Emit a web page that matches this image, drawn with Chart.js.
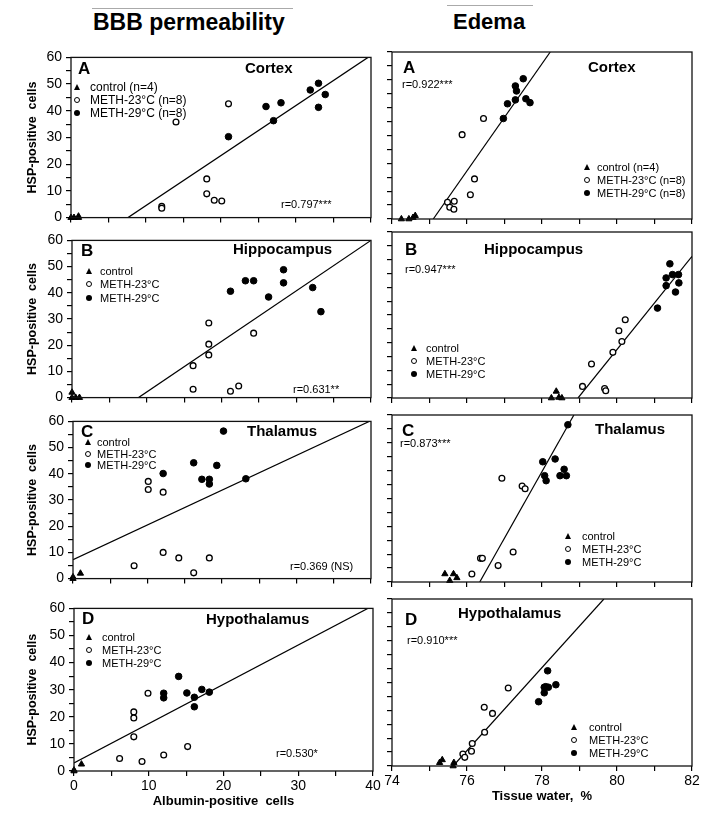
<!DOCTYPE html>
<html>
<head>
<meta charset="utf-8">
<script src="https://cdn.jsdelivr.net/npm/chart.js@4.4.1/dist/chart.umd.min.js"></script>
<style>
  body { margin: 0; background: #fff; width: 704px; height: 813px; position: relative; overflow: hidden;
         font-family: "Liberation Sans", Arial, sans-serif; color: #000; }
  canvas { position: absolute; }
  .t { position: absolute; white-space: pre; line-height: 1; transform: translateY(-50%); }
  .b { font-weight: bold; }
  .rule { position: absolute; border-top: 1px solid #aaa; height: 0; }
  .tri { position: absolute; width: 0; height: 0; border-left: 3.5px solid transparent;
         border-right: 3.5px solid transparent; border-bottom: 6px solid #000; transform: translate(-50%, -50%); }
  .dot { position: absolute; width: 6px; height: 6px; border-radius: 50%; box-sizing: border-box;
         transform: translate(-50%, -50%); }
  .open { border: 1.3px solid #000; background: #fff; }
  .full { background: #000; }
</style>
</head>
<body>
<div class="rule" style="left:92px;top:8px;width:201px"></div>
<div class="rule" style="left:447px;top:5px;width:86px"></div>
<div class="t b" style="left:93px;top:22px;font-size:23px">BBB permeability</div>
<div class="t b" style="left:453px;top:22px;font-size:22px">Edema</div>
<script>
// axis ticks
const hspTicks = [0, 5, 10, 15, 20, 25, 30, 35, 40, 45, 50, 55, 60];
const hspLabels = [0, 10, 20, 30, 40, 50, 60];
const albTicks = [0, 5, 10, 15, 20, 25, 30, 35, 40];
const albLabels = [0, 10, 20, 30, 40];
const watTicks = [74, 75, 76, 77, 78, 79, 80, 81, 82];
const watLabels = [74, 76, 78, 80, 82];

// BBB permeability (albumin-positive cells vs HSP-positive cells)
const cortexAlbCtrl = [[0, 0], [0.4, 0], [1, 0], [1, 0.5]];
const cortexAlbM23 = [[14.0, 35.8], [21.0, 42.6], [12.1, 4.2], [12.1, 3.5], [18.1, 14.5], [18.1, 8.9], [19.1, 6.5], [20.1, 6.2]];
const cortexAlbM29 = [[21.0, 30.3], [26.0, 41.6], [28.0, 43.0], [27.0, 36.3], [31.9, 47.8], [33.0, 50.3], [33.0, 41.3], [33.9, 46.1]];
const cortexAlbFit = [[7.6, 0], [39.6, 60]];

const hippoAlbCtrl = [[0, 2], [0, 0], [0.5, 0], [1, 0]];
const hippoAlbM23 = [[18.3, 28.5], [18.3, 20.4], [18.3, 16.3], [16.2, 12.2], [16.2, 3.2], [21.2, 2.4], [22.3, 4.4], [24.3, 24.6]];
const hippoAlbM29 = [[21.2, 40.6], [23.2, 44.6], [24.3, 44.6], [26.3, 38.4], [28.3, 48.8], [28.3, 43.8], [32.2, 42.0], [33.3, 32.8]];
const hippoAlbFit = [[8.9, 0], [40, 60]];

const thalAlbCtrl = [[0, 0], [0, 0.6], [1, 2]];
const thalAlbM23 = [[10.1, 37.1], [10.1, 34.0], [12.1, 33.0], [12.1, 10.0], [8.2, 4.9], [14.2, 7.9], [16.2, 2.2], [18.3, 7.9]];
const thalAlbM29 = [[20.2, 56.3], [12.1, 40.1], [16.2, 44.2], [17.3, 37.9], [18.3, 37.9], [18.3, 36.1], [19.3, 43.2], [23.2, 38.1]];
const thalAlbFit = [[0, 7.2], [40, 60.3]];

const hypoAlbCtrl = [[0, 0], [0, 0.3], [1, 2.5]];
const hypoAlbM23 = [[9.9, 28.7], [8.0, 21.8], [8.0, 19.6], [8.0, 12.6], [6.1, 4.6], [9.1, 3.5], [12.0, 5.9], [15.2, 9.0]];
const hypoAlbM29 = [[14.0, 34.9], [12.0, 28.7], [12.0, 27.0], [15.1, 28.8], [17.1, 30.1], [18.1, 29.1], [16.1, 27.2], [16.1, 23.7]];
const hypoAlbFit = [[0, 3.0], [40, 61]];

// Edema (tissue water % vs HSP-positive cells)
const cortexWatCtrl = [[74.25, 0], [74.45, 0], [74.56, 0.5], [74.62, 1.2]];
const cortexWatM23 = [[76.44, 36.1], [75.87, 30.3], [76.2, 14.4], [76.09, 8.7], [75.48, 6.0], [75.66, 6.4], [75.54, 4.2], [75.65, 3.5]];
const cortexWatM29 = [[76.97, 36.1], [77.08, 41.4], [77.29, 42.8], [77.29, 47.8], [77.32, 46.0], [77.5, 50.4], [77.57, 43.2], [77.68, 41.8]];
const cortexWatFit = [[75.1, 0], [78.22, 60]];

const hippoWatCtrl = [[78.38, 2.4], [78.25, 0], [78.45, 0.2], [78.53, 0]];
const hippoWatM23 = [[79.08, 4.2], [79.32, 12.3], [79.67, 3.4], [79.7, 2.6], [80.05, 24.3], [80.22, 28.3], [79.89, 16.5], [80.13, 20.4]];
const hippoWatM29 = [[81.08, 32.5], [81.31, 40.6], [81.31, 43.4], [81.41, 48.5], [81.48, 44.6], [81.56, 38.3], [81.64, 44.6], [81.65, 41.6]];
const hippoWatFit = [[78.96, 0], [82, 51.2]];

const thalWatCtrl = [[75.41, 2.9], [75.64, 2.9], [75.54, 0.5], [75.73, 1.5]];
const thalWatM23 = [[76.13, 2.9], [76.36, 8.5], [76.41, 8.5], [76.83, 5.9], [76.93, 37.3], [77.23, 10.8], [77.47, 34.5], [77.55, 33.5]];
const thalWatM29 = [[78.02, 43.2], [78.07, 38.2], [78.11, 36.4], [78.35, 44.2], [78.48, 38.2], [78.59, 40.5], [78.65, 38.2], [78.69, 56.5]];
const thalWatFit = [[76.34, 0], [78.85, 60]];

const hypoWatCtrl = [[75.27, 1.2], [75.34, 2.2], [75.65, 1.2], [75.63, 0]];
const hypoWatM23 = [[75.89, 4.3], [75.94, 3.1], [76.12, 5.3], [76.47, 12.1], [76.46, 21.1], [76.68, 18.9], [77.1, 28.0], [76.14, 8.1]];
const hypoWatM29 = [[77.91, 23.1], [78.06, 26.3], [78.06, 28.3], [78.15, 34.2], [78.17, 28.3], [78.37, 29.2], [78.1, 28.5]];
const hypoWatFit = [[75.63, 0], [79.65, 60]];

const legendN = ['control (n=4)', 'METH-23°C (n=8)', 'METH-29°C (n=8)'];
const legendPlain = ['control', 'METH-23°C', 'METH-29°C'];

// layout: box = [left, right, top, bottom] of the plot frame in page pixels
const panels = [
  { box: [71, 371, 55, 222], kind: 'alb', data: [cortexAlbCtrl, cortexAlbM23, cortexAlbM29, cortexAlbFit],
    letter: 'A', letterAt: [78, 68], name: 'Cortex', nameAt: [245, 67], r: 'r=0.797***', rAt: [281, 204],
    legend: legendN, legendAt: [77, 90, 87, 13], legendSize: 12 },
  { box: [392, 692, 52, 219], kind: 'wat', data: [cortexWatCtrl, cortexWatM23, cortexWatM29, cortexWatFit],
    letter: 'A', letterAt: [403, 67], name: 'Cortex', nameAt: [588, 66], r: 'r=0.922***', rAt: [402, 84],
    legend: legendN, legendAt: [587, 597, 167, 13], legendSize: 11 },
  { box: [72, 371, 238, 402], kind: 'alb', data: [hippoAlbCtrl, hippoAlbM23, hippoAlbM29, hippoAlbFit],
    letter: 'B', letterAt: [81, 250], name: 'Hippocampus', nameAt: [233, 248], r: 'r=0.631**', rAt: [293, 389],
    legend: legendPlain, legendAt: [89, 100, 271, 13.3], legendSize: 11 },
  { box: [392, 692, 232, 398], kind: 'wat', data: [hippoWatCtrl, hippoWatM23, hippoWatM29, hippoWatFit],
    letter: 'B', letterAt: [405, 249], name: 'Hippocampus', nameAt: [484, 248], r: 'r=0.947***', rAt: [405, 269],
    legend: legendPlain, legendAt: [414, 426, 348, 13], legendSize: 11 },
  { box: [73, 371, 419, 583], kind: 'alb', data: [thalAlbCtrl, thalAlbM23, thalAlbM29, thalAlbFit],
    letter: 'C', letterAt: [81, 431], name: 'Thalamus', nameAt: [247, 430], r: 'r=0.369 (NS)', rAt: [290, 566],
    legend: legendPlain, legendAt: [88, 97, 442, 11.5], legendSize: 11 },
  { box: [392, 692, 415, 582], kind: 'wat', data: [thalWatCtrl, thalWatM23, thalWatM29, thalWatFit],
    letter: 'C', letterAt: [402, 430], name: 'Thalamus', nameAt: [595, 428], r: 'r=0.873***', rAt: [400, 443],
    legend: legendPlain, legendAt: [568, 582, 536, 13], legendSize: 11 },
  { box: [74, 373, 606, 771], kind: 'alb', data: [hypoAlbCtrl, hypoAlbM23, hypoAlbM29, hypoAlbFit],
    letter: 'D', letterAt: [82, 618], name: 'Hypothalamus', nameAt: [206, 618], r: 'r=0.530*', rAt: [276, 753],
    legend: legendPlain, legendAt: [89, 102, 637, 13], legendSize: 11, xTitle: 'Albumin-positive  cells' },
  { box: [392, 692, 599, 766], kind: 'wat', data: [hypoWatCtrl, hypoWatM23, hypoWatM29, hypoWatFit],
    letter: 'D', letterAt: [405, 619], name: 'Hypothalamus', nameAt: [458, 612], r: 'r=0.910***', rAt: [407, 640],
    legend: legendPlain, legendAt: [574, 589, 727, 13], legendSize: 11, xTitle: 'Tissue water,  %' }
];

Chart.defaults.font.family = '"Liberation Sans", Arial, sans-serif';
Chart.defaults.color = '#000';

const pts = a => a.map(([x, y]) => ({ x, y }));

const frame = {
  id: 'frame',
  afterDatasetsDraw(chart) {
    const { ctx, chartArea: a } = chart;
    ctx.save();
    ctx.strokeStyle = '#111';
    ctx.lineWidth = 1.3;
    ctx.strokeRect(a.left, a.top, a.right - a.left, a.bottom - a.top);
    ctx.restore();
  }
};

function text(str, x, y, size, bold) {
  const d = document.createElement('div');
  d.className = 't' + (bold ? ' b' : '');
  d.style.left = x + 'px';
  d.style.top = y + 'px';
  d.style.fontSize = size + 'px';
  d.textContent = str;
  document.body.appendChild(d);
}

function marker(cls, x, y) {
  const d = document.createElement('div');
  d.className = cls;
  d.style.left = x + 'px';
  d.style.top = y + 'px';
  document.body.appendChild(d);
}

function makePanel(p) {
  const [l, r, t, b] = p.box;
  const isWat = p.kind === 'wat';
  const padT = 10, padR = 12;
  const bottomH = p.xTitle ? 40 : 8;
  const canvasLeft = isWat ? l - 20 : 0;
  const axisW = l - canvasLeft;

  const cv = document.createElement('canvas');
  cv.width = r - canvasLeft + padR;
  cv.height = b - t + padT + bottomH;
  cv.style.left = canvasLeft + 'px';
  cv.style.top = (t - padT) + 'px';
  document.body.appendChild(cv);

  const xTicks = isWat ? watTicks : albTicks;
  const xLabels = isWat ? watLabels : albLabels;
  const grid = { drawOnChartArea: false, drawTicks: true, tickLength: 5, color: '#000', lineWidth: 1.2 };

  new Chart(cv, {
    type: 'scatter',
    data: {
      datasets: [
        { data: pts(p.data[0]), pointStyle: 'triangle', pointRadius: 3.6, backgroundColor: '#000', borderColor: '#000', borderWidth: 1, clip: false },
        { data: pts(p.data[1]), pointRadius: 2.9, backgroundColor: '#fff', borderColor: '#000', borderWidth: 1.3, clip: false },
        { data: pts(p.data[2]), pointRadius: 3.3, backgroundColor: '#000', borderColor: '#000', borderWidth: 1, clip: false },
        { data: pts(p.data[3]), showLine: true, pointRadius: 0, borderColor: '#000', borderWidth: 1.2, clip: 0 }
      ]
    },
    options: {
      responsive: false,
      animation: false,
      layout: { padding: { top: padT, right: padR, left: 0, bottom: 0 } },
      plugins: { legend: { display: false }, tooltip: { enabled: false } },
      scales: {
        x: {
          type: 'linear',
          min: xTicks[0], max: xTicks[xTicks.length - 1],
          afterBuildTicks: s => { s.ticks = xTicks.map(v => ({ value: v })); },
          afterFit: s => { s.height = bottomH; },
          grid: grid,
          border: { display: false },
          ticks: { display: !!p.xTitle, autoSkip: false, maxRotation: 0, padding: 2, font: { size: 14 },
                   callback: v => xLabels.includes(v) ? String(v) : '' },
          title: { display: !!p.xTitle, text: p.xTitle || '', font: { size: 13, weight: 'bold' },
                   padding: { top: 0, bottom: 2 } }
        },
        y: {
          type: 'linear',
          min: 0, max: 60,
          afterBuildTicks: s => { s.ticks = hspTicks.map(v => ({ value: v })); },
          afterFit: s => { s.width = axisW; },
          grid: grid,
          border: { display: false },
          ticks: { display: !isWat, autoSkip: false, padding: 4, font: { size: 14 },
                   callback: v => hspLabels.includes(v) ? String(v) : '' },
          title: { display: !isWat, text: 'HSP-positive  cells', font: { size: 12.5, weight: 'bold' },
                   padding: { top: 25 } }
        }
      }
    },
    plugins: [frame]
  });

  text(p.letter, p.letterAt[0], p.letterAt[1], 17, true);
  text(p.name, p.nameAt[0], p.nameAt[1], 15, true);
  text(p.r, p.rAt[0], p.rAt[1], 11, false);
  const [mx, tx, y0, step] = p.legendAt;
  const cls = ['tri', 'dot open', 'dot full'];
  p.legend.forEach((s, i) => {
    marker(cls[i], mx, y0 + i * step);
    text(s, tx, y0 + i * step, p.legendSize, false);
  });
}

panels.forEach(makePanel);
</script>
</body>
</html>
